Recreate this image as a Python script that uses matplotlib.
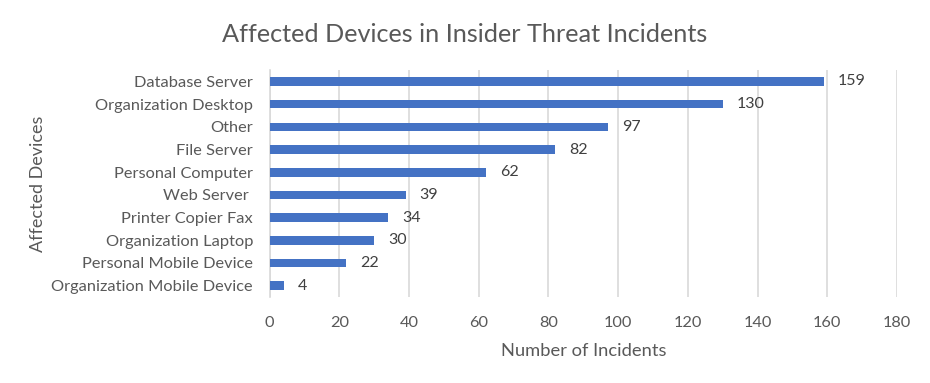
import matplotlib
matplotlib.use("Agg")
import matplotlib.pyplot as plt

devices = ["Database Server", "Organization Desktop", "Other", "File Server",
           "Personal Computer", "Web Server ", "Printer Copier Fax",
           "Organization Laptop", "Personal Mobile Device", "Organization Mobile Device"]
incidents = [159, 130, 97, 82, 62, 39, 34, 30, 22, 4]
xticks = [0, 20, 40, 60, 80, 100, 120, 140, 160, 180]

plt.rcParams['font.family'] = ['Lato', 'DejaVu Sans']
txt = '#595959'

fig = plt.figure(figsize=(9.3, 3.83), dpi=100)
ax = fig.add_axes([0.290, 0.2245, 0.6745, 0.5925])

ypos = list(range(len(devices)))
ax.barh(ypos, incidents, height=0.38, color='#4472C4', zorder=3)
for y, v in zip(ypos, incidents):
    ax.text(v + 4, y, str(v), va='center', ha='left', fontsize=11.5, color='#404040')

ax.set_xlim(0, 180)
ax.set_ylim(len(devices) - 0.5, -0.5)
ax.set_xticks(xticks)
ax.set_yticks(ypos)
ax.set_yticklabels(devices)
ax.tick_params(axis='both', length=0, labelsize=11.8, labelcolor=txt)
ax.tick_params(axis='x', pad=14)
ax.tick_params(axis='y', pad=12)
ax.grid(axis='x', color='#d9d9d9', linewidth=1.2, zorder=0)
for s in ['top', 'right', 'bottom']:
    ax.spines[s].set_visible(False)
ax.spines['left'].set_color('#d9d9d9')
ax.spines['left'].set_linewidth(1.2)

ax.set_xlabel('Number of Incidents', fontsize=13.2, color=txt, labelpad=9)
ax.set_ylabel('Affected Devices', fontsize=13, color=txt, labelpad=4)
fig.suptitle('Affected Devices in Insider Threat Incidents', fontsize=18.2, color=txt, y=0.94)

fig.savefig('out.png', dpi=100)
